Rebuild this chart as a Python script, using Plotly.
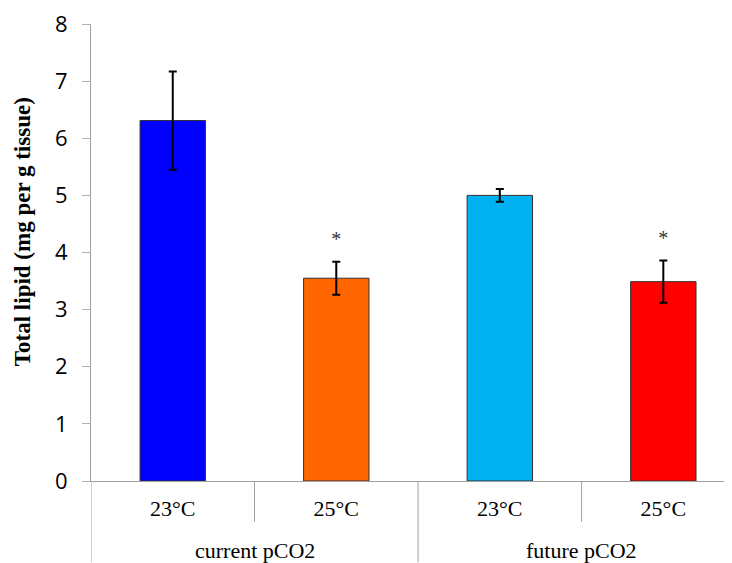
import plotly.graph_objects as go

groups = ["current pCO2", "current pCO2", "future pCO2", "future pCO2"]
temps = ["23°C", "25°C", "23°C", "25°C"]
values = [6.31, 3.55, 5.00, 3.49]
errors = [0.86, 0.29, 0.11, 0.37]
colors = ["#0000FF", "#FF6600", "#00B0F0", "#FF0000"]
sig_marks = ["", "*", "", "*"]
sig_y = [None, 4.2, None, 4.22]
y_title = "Total lipid (mg per g tissue)"

pos = list(range(len(values)))
plot_h = 461
plot_w = 641
fig_h = 555

fig = go.Figure()
fig.add_trace(go.Bar(
    x=pos, y=values,
    marker=dict(color=colors, line=dict(color="#333333", width=1)),
    error_y=dict(type="data", array=errors, color="black", thickness=2, width=4),
    width=0.40,
))
fig.add_trace(go.Scatter(
    x=pos, y=sig_y, mode="text", text=sig_marks,
    textfont=dict(family="Liberation Serif", size=20, color="#333333"),
    textposition="middle center",
))

unique_groups = []
for g in groups:
    if g not in unique_groups:
        unique_groups.append(g)
annotations = []
shapes = []
for g in unique_groups:
    idx = [i for i, gg in enumerate(groups) if gg == g]
    annotations.append(dict(
        x=sum(idx) / len(idx), y=-70 / plot_h, xref="x", yref="paper",
        text=g, showarrow=False, yanchor="middle",
        font=dict(family="Liberation Serif", size=22, color="black"),
    ))
annotations.append(dict(
    x=-69 / plot_w, y=1 - 210 / plot_h, xref="paper", yref="paper",
    text="<b>" + y_title + "</b>", textangle=-90, showarrow=False,
    xanchor="center", yanchor="middle",
    font=dict(family="Liberation Serif", size=23, color="black"),
))

line_style = dict(color="#a0a0a0", width=1)
bottom = -(fig_h - 12 - plot_h) / plot_h
shapes.append(dict(type="line", xref="x", yref="paper", x0=-0.5, x1=-0.5,
                   y0=0, y1=bottom, line=line_style))
for i in range(1, len(groups)):
    if groups[i] != groups[i - 1]:
        shapes.append(dict(type="line", xref="x", yref="paper", x0=i - 0.5, x1=i - 0.5,
                           y0=0, y1=bottom, line=line_style))
    else:
        shapes.append(dict(type="line", xref="x", yref="paper", x0=i - 0.5, x1=i - 0.5,
                           y0=0, y1=-41 / plot_h, line=line_style))

fig.update_layout(
    width=724, height=fig_h,
    margin=dict(l=83, r=0, t=12, b=fig_h - 12 - plot_h),
    plot_bgcolor="white", paper_bgcolor="white",
    showlegend=False,
    annotations=annotations,
    shapes=shapes,
    xaxis=dict(
        range=[-0.5, 3.42],
        tickvals=pos, ticktext=temps,
        showline=True, linecolor="#a0a0a0", linewidth=1,
        ticks="", ticklabelstandoff=8,
        tickfont=dict(family="Liberation Serif", size=22, color="black"),
        showgrid=False, zeroline=False,
    ),
    yaxis=dict(
        range=[0, 8], dtick=1,
        showline=True, linecolor="#a0a0a0", linewidth=1,
        ticks="outside", ticklen=8, tickcolor="#b0b0b0",
        ticklabelstandoff=10, ticklabeloverflow="allow",
        tickfont=dict(family="Open Sans", size=22, color="black"),
        showgrid=False, zeroline=False,
    ),
)

fig.write_html("out.html")
